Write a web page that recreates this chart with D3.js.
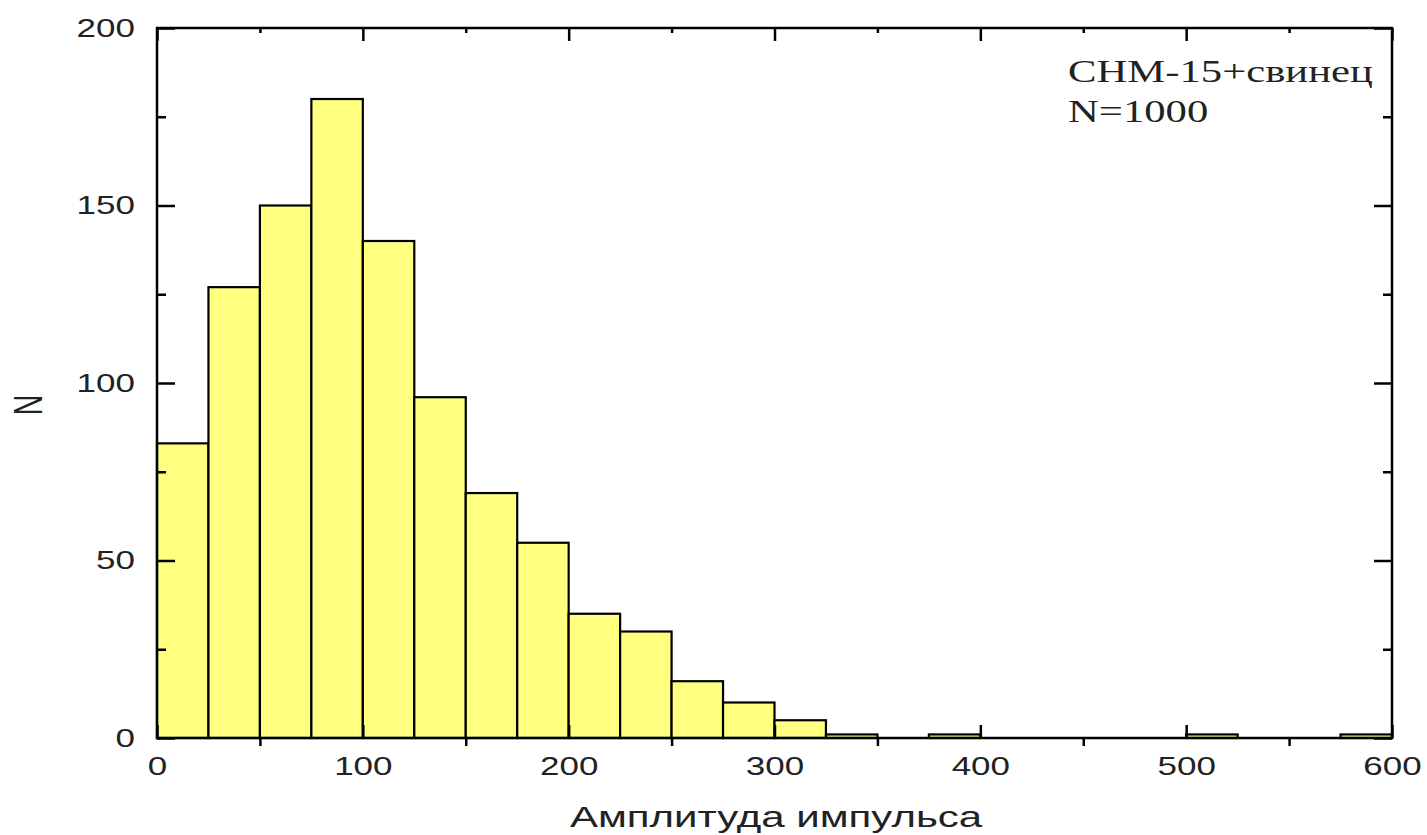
<!DOCTYPE html>
<html>
    <head>
        <meta charset="utf-8">
        <title>Амплитуда импульса</title>
        <script src="https://cdn.jsdelivr.net/npm/d3@7"></script>
        <style>
            body { margin: 0; background: #fff; }
        </style>
    </head>
    <body>
        <script>
            // bins of width 25, start of each bin
            var binStart = [0, 25, 50, 75, 100, 125, 150, 175, 200, 225, 250, 275,
                            300, 325, 350, 375, 400, 425, 450, 475, 500, 525, 550, 575];
            var counts   = [83, 127, 150, 180, 140, 96, 69, 55, 35, 30, 16, 10,
                            5, 1, 0, 1, 0, 0, 0, 0, 1, 0, 0, 1];
            var binWidth = 25;

            var xMajor = [0, 100, 200, 300, 400, 500, 600],
                xMinor = [50, 150, 250, 350, 450, 550],
                yMajor = [0, 50, 100, 150, 200],
                yMinor = [25, 75, 125, 175];

            var noteLines = ["СНМ-15+свинец", "N=1000"];
            var xTitle = "Амплитуда импульса",
                yTitle = "N";

            var W = 1427, H = 835;
            var plotL = 157, plotR = 1392, plotT = 28, plotB = 738;
            var sx = 1.4; // the source picture is stretched sideways

            var x = d3.scaleLinear().domain([0, 600]).range([plotL, plotR]);
            var y = d3.scaleLinear().domain([0, 200]).range([plotB, plotT]);

            var svg = d3.select("body")
                .append("svg")
                .attr("width", W)
                .attr("height", H);

            // bars
            svg.append("g")
                .selectAll("rect")
                .data(binStart)
                .enter()
                .append("rect")
                .attr("x", function(d){ return x(d); })
                .attr("width", function(d){ return x(d + binWidth) - x(d); })
                .attr("y", function(d, i){ return y(counts[i]); })
                .attr("height", function(d, i){ return y(0) - y(counts[i]); })
                .attr("fill", "#ffff80")
                .attr("stroke", "#000")
                .attr("stroke-width", 2.2);

            var sansFont = "'Liberation Sans', Arial, sans-serif";

            function styleTicks(g){
                g.select(".domain").remove();
                g.selectAll("line").attr("stroke", "#000").attr("stroke-width", 2.5);
            }

            // bottom axis
            svg.append("g")
                .attr("transform", "translate(0," + plotB + ")")
                .call(d3.axisBottom(x).tickValues(xMajor).tickSizeInner(-13).tickSizeOuter(0).tickPadding(19))
                .call(styleTicks)
                .call(function(g){
                    g.selectAll("text")
                        .attr("font-family", sansFont)
                        .attr("font-size", 25)
                        .attr("fill", "#222")
                        .attr("transform", "scale(" + sx + ",1)");
                });
            svg.append("g")
                .attr("transform", "translate(0," + plotB + ")")
                .call(d3.axisBottom(x).tickValues(xMinor).tickSize(8).tickFormat(""))
                .call(styleTicks);

            // top axis
            svg.append("g")
                .attr("transform", "translate(0," + plotT + ")")
                .call(d3.axisTop(x).tickValues(xMajor).tickSize(-13).tickFormat(""))
                .call(styleTicks);
            svg.append("g")
                .attr("transform", "translate(0," + plotT + ")")
                .call(d3.axisTop(x).tickValues(xMinor).tickSize(-5).tickFormat(""))
                .call(styleTicks);

            // left axis
            svg.append("g")
                .attr("transform", "translate(" + plotL + ",0)")
                .call(d3.axisLeft(y).tickValues(yMajor).tickSizeInner(-18).tickSizeOuter(0))
                .call(styleTicks)
                .call(function(g){
                    g.selectAll("text")
                        .attr("x", -22 / sx)
                        .attr("font-family", sansFont)
                        .attr("font-size", 25)
                        .attr("fill", "#222")
                        .attr("transform", "scale(" + sx + ",1)");
                });
            svg.append("g")
                .attr("transform", "translate(" + plotL + ",0)")
                .call(d3.axisLeft(y).tickValues(yMinor).tickSize(-9).tickFormat(""))
                .call(styleTicks);

            // right axis
            svg.append("g")
                .attr("transform", "translate(" + plotR + ",0)")
                .call(d3.axisRight(y).tickValues(yMajor).tickSize(-18).tickFormat(""))
                .call(styleTicks);
            svg.append("g")
                .attr("transform", "translate(" + plotR + ",0)")
                .call(d3.axisRight(y).tickValues(yMinor).tickSize(-9).tickFormat(""))
                .call(styleTicks);

            // frame
            svg.append("rect")
                .attr("x", plotL)
                .attr("y", plotT)
                .attr("width", plotR - plotL)
                .attr("height", plotB - plotT)
                .attr("fill", "none")
                .attr("stroke", "#000")
                .attr("stroke-width", 2.5);

            // note in the corner
            svg.append("g")
                .selectAll("text")
                .data(noteLines)
                .enter()
                .append("text")
                .attr("transform", function(d, i){ return "translate(1068," + (82 + i * 40) + ") scale(" + sx + ",1)"; })
                .attr("font-family", "'Liberation Serif', 'Times New Roman', serif")
                .attr("font-size", 30.5)
                .attr("fill", "#222")
                .text(function(d){ return d; });

            // axis titles
            svg.append("text")
                .attr("transform", "translate(776,827) scale(" + sx + ",1)")
                .attr("text-anchor", "middle")
                .attr("font-family", sansFont)
                .attr("font-size", 30)
                .attr("fill", "#222")
                .text(xTitle);

            svg.append("text")
                .attr("transform", "translate(42,405) scale(" + sx + ",1) rotate(-90)")
                .attr("text-anchor", "middle")
                .attr("font-family", sansFont)
                .attr("font-size", 29)
                .attr("fill", "#222")
                .text(yTitle);
        </script>
    </body>
</html>
